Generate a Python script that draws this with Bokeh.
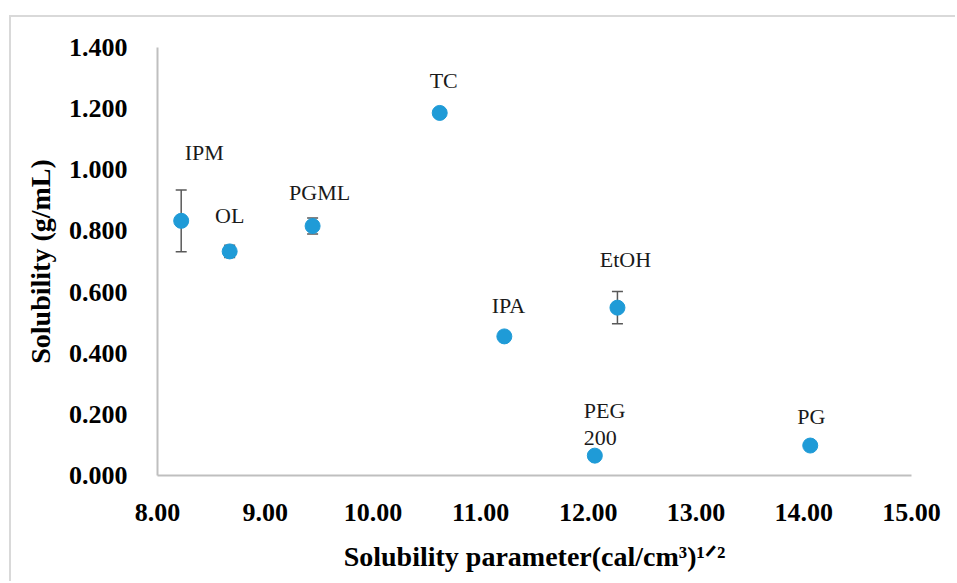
from bokeh.plotting import figure
from bokeh.models import (ColumnDataSource, Whisker, TeeHead, FixedTicker, NumeralTickFormatter)
from bokeh.core.properties import value
from bokeh.embed import file_html
from bokeh.resources import INLINE

# ---- data ----
solvents = ["IPM", "OL", "PGML", "TC", "IPA", "EtOH", "PEG\n200", "PG"]
sol_param = [8.22, 8.67, 9.44, 10.62, 11.22, 12.27, 12.06, 14.06]
solubility = [0.833, 0.733, 0.816, 1.186, 0.455, 0.549, 0.065, 0.098]
sd = [0.101, 0.020, 0.026, 0.0, 0.0, 0.053, 0.0, 0.0]
x_ticks = [8, 9, 10, 11, 12, 13, 14, 15]
y_ticks = [0.0, 0.2, 0.4, 0.6, 0.8, 1.0, 1.2, 1.4]
x_title = "Solubility parameter(cal/cm³)¹ᐟ²"
y_title = "Solubility (g/mL)"

# label placement (style, screen pixels)
lab_dx = [23, 0, 7, 4, 4, 8, -11, 1]
lab_dy = [-68, -36, -34, -32, -31, -48, -32, -29]
lab_align = ["center", "center", "center", "center", "center", "center", "left", "center"]

SERIF = "Liberation Serif"
BLUE = "#1f9bd7"

src = ColumnDataSource(dict(
    x=sol_param, y=solubility, lo=[v - e for v, e in zip(solubility, sd)],
    hi=[v + e for v, e in zip(solubility, sd)], label=solvents,
    dx=lab_dx, dy=lab_dy, align=lab_align))

p = figure(width=946, height=566, x_range=(8, 15), y_range=(0, 1.4),
           output_backend="svg", toolbar_location=None,
           min_border_left=146, min_border_right=46, min_border_top=30, min_border_bottom=108)
p.styles = {"margin-left": "9px", "margin-top": "15px",
            "border-left": "2px solid #d9d9d9", "border-top": "2px solid #d9d9d9"}
p.outline_line_color = None
p.grid.visible = False
p.background_fill_color = "white"
p.border_fill_color = "white"

for ax in (p.xaxis, p.yaxis):
    ax.axis_line_color = "#bfbfbf"
    ax.axis_line_width = 2
    ax.major_tick_line_color = None
    ax.minor_tick_line_color = None
    ax.major_label_text_font = SERIF
    ax.major_label_text_font_style = "bold"
    ax.major_label_text_font_size = "26px"
    ax.major_label_text_color = "black"
    ax.axis_label_text_font = SERIF
    ax.axis_label_text_font_style = "bold"
    ax.axis_label_text_font_size = "28px"
    ax.axis_label_text_color = "black"

p.xaxis.ticker = FixedTicker(ticks=x_ticks)
p.yaxis.ticker = FixedTicker(ticks=y_ticks)
p.xaxis.formatter = NumeralTickFormatter(format="0.00")
p.yaxis.formatter = NumeralTickFormatter(format="0.000")
p.xaxis.major_label_standoff = 22
p.yaxis.major_label_standoff = 24
p.yaxis.axis_label = y_title
p.yaxis.axis_label_standoff = 10
p.xaxis.axis_label = x_title
p.xaxis.axis_label_standoff = 17

p.add_layout(Whisker(source=src, base="x", upper="hi", lower="lo", dimension="height",
                     line_color="#595959", line_width=1.5,
                     upper_head=TeeHead(size=11, line_color="#595959", line_width=1.5),
                     lower_head=TeeHead(size=11, line_color="#595959", line_width=1.5)))

p.scatter("x", "y", source=src, size=15, fill_color=BLUE, line_color=BLUE)

p.text("x", "y", text="label", source=src, x_offset="dx", y_offset="dy",
       text_align="align", text_baseline="alphabetic", text_font=value(SERIF),
       text_font_size="22px", text_color="#1a1a1a", text_line_height=1.08)

open("out.html", "w").write(file_html(p, INLINE))
